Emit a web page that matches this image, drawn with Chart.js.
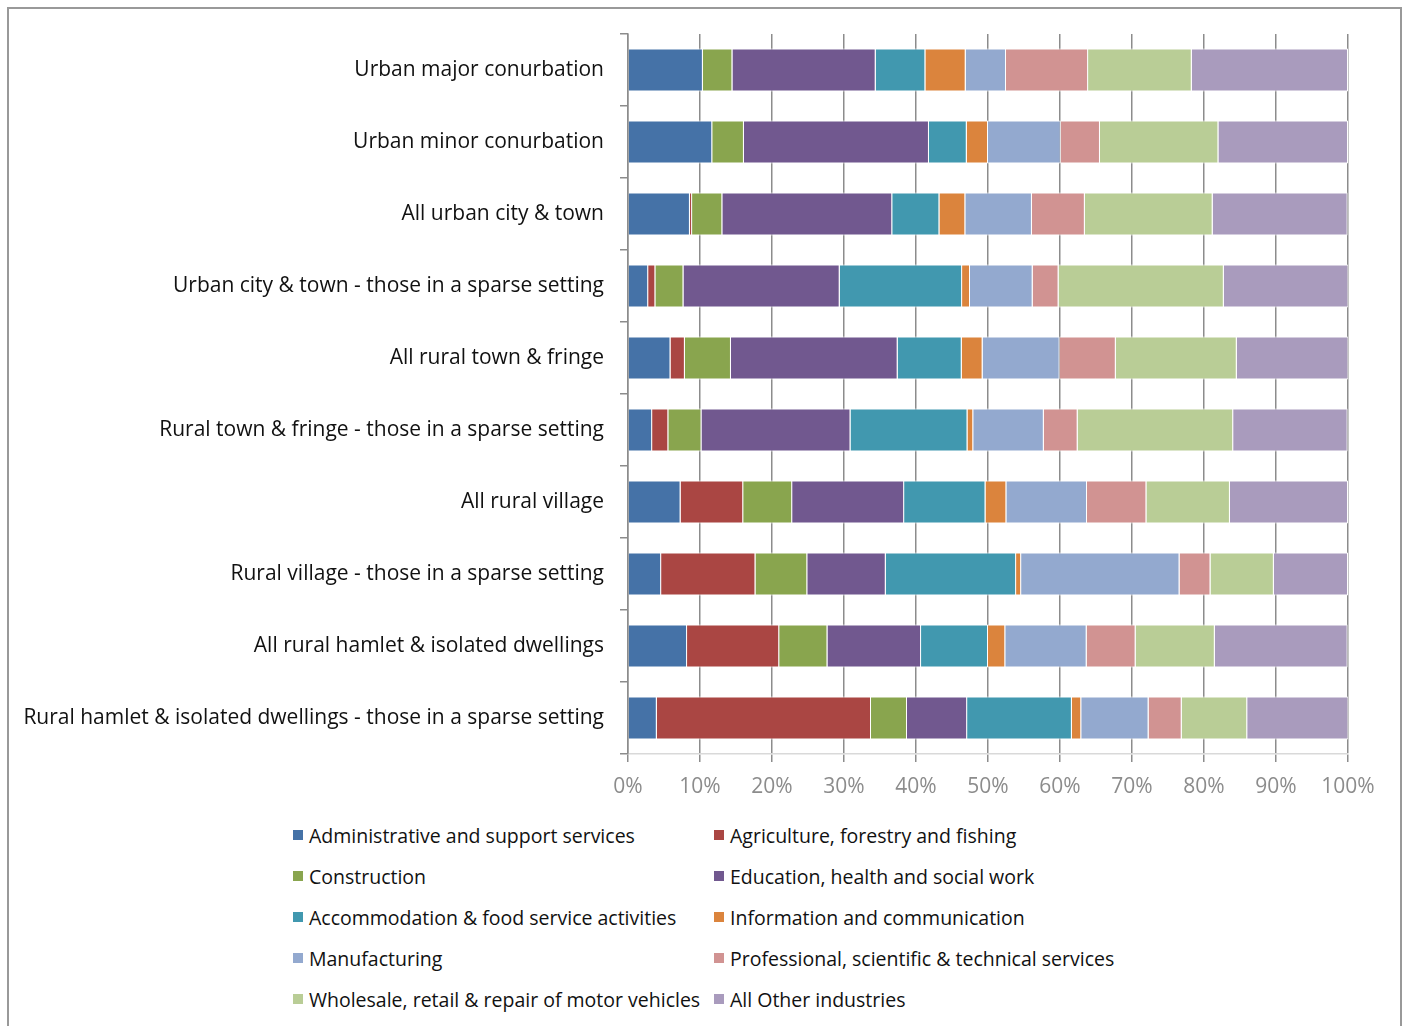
<!DOCTYPE html>
<html>
<head>
<meta charset="utf-8">
<script src="https://cdn.jsdelivr.net/npm/chart.js@4/dist/chart.umd.min.js"></script>
<style>
  html, body { margin: 0; padding: 0; background: #fff; }
  #wrap { position: relative; width: 1405px; height: 1026px; overflow: hidden; }
  #chartBox { position: absolute; left: 0; top: 0; width: 1405px; height: 800px; }
  #frame { position: absolute; left: 7px; top: 7px; width: 1395px; height: 1040px; border: 2px solid #999; box-sizing: border-box; pointer-events: none; }
  #legend { position: absolute; left: 293px; top: 822px; display: grid; grid-template-columns: 421px 421px; grid-auto-rows: 41px; font-family: "Open Sans", sans-serif; font-size: 19.5px; color: #111; }
  #legend .item { display: flex; align-items: center; height: 26px; white-space: nowrap; }
  #legend .box { width: 10px; height: 10px; margin-right: 6px; flex: none; }
</style>
</head>
<body>
<div id="wrap">
  <div id="chartBox"><canvas id="c" width="1405" height="800"></canvas></div>
  <div id="legend"></div>
  <div id="frame"></div>
</div>
<script>
const categories = [
  "Urban major conurbation",
  "Urban minor conurbation",
  "All urban city & town",
  "Urban city & town - those in a sparse setting",
  "All rural town & fringe",
  "Rural town & fringe - those in a sparse setting",
  "All rural village",
  "Rural village - those in a sparse setting",
  "All rural hamlet & isolated dwellings",
  "Rural hamlet & isolated dwellings - those in a sparse setting"
];
const seriesNames = [
  "Administrative and support services",
  "Agriculture, forestry and fishing",
  "Construction",
  "Education, health and social work",
  "Accommodation & food service activities",
  "Information and communication",
  "Manufacturing",
  "Professional, scientific & technical services",
  "Wholesale, retail & repair of motor vehicles",
  "All Other industries"
];
const admin     = [10.4, 11.7, 8.6, 2.8, 5.9, 3.35, 7.3, 4.6, 8.2, 4.0];
const agri      = [0, 0, 0.3, 1.0, 2.0, 2.25, 8.7, 13.1, 12.8, 29.75];
const constr    = [4.1, 4.4, 4.2, 3.9, 6.4, 4.6, 6.8, 7.2, 6.7, 5.0];
const education = [19.9, 25.7, 23.6, 21.7, 23.15, 20.7, 15.55, 10.9, 13.0, 8.35];
const accom     = [6.9, 5.25, 6.55, 17.0, 8.9, 16.25, 11.3, 18.1, 9.3, 14.55];
const info      = [5.6, 2.95, 3.6, 1.1, 2.9, 0.8, 2.9, 0.7, 2.4, 1.3];
const manuf     = [5.6, 10.1, 9.25, 8.7, 10.7, 9.8, 11.2, 22.0, 11.3, 9.35];
const prof      = [11.4, 5.45, 7.35, 3.6, 7.8, 4.7, 8.25, 4.3, 6.8, 4.6];
const wholesale = [14.4, 16.45, 17.75, 22.95, 16.8, 21.6, 11.6, 8.8, 11.0, 9.1];
const other     = [21.7, 18.0, 18.75, 17.3, 15.5, 15.9, 16.4, 10.3, 18.45, 14.05];
const xTicks = [0, 10, 20, 30, 40, 50, 60, 70, 80, 90, 100];

const seriesValues = [admin, agri, constr, education, accom, info, manuf, prof, wholesale, other];
const colors = ["#4572A7", "#AA4643", "#89A54E", "#71588F", "#4198AF", "#DB843D", "#93A9CF", "#D19392", "#B9CD96", "#A99BBD"];

const datasets = seriesNames.map((name, i) => ({
  label: name,
  data: seriesValues[i],
  backgroundColor: colors[i],
  borderColor: "#ffffff",
  borderWidth: 1,
  barPercentage: 0.6,
  categoryPercentage: 1.0
}));

const chart = new Chart(document.getElementById("c"), {
  type: "bar",
  data: { labels: categories, datasets },
  options: {
    indexAxis: "y",
    responsive: false,
    animation: false,
    layout: { padding: { top: 34, right: 57, left: 0, bottom: 0 } },
    plugins: { legend: { display: false }, tooltip: { enabled: false } },
    scales: {
      x: {
        stacked: true,
        min: 0, max: 100,
        afterBuildTicks: (s) => { s.ticks = xTicks.map(v => ({ value: v })); },
        afterFit: (s) => { s.height = 46; },
        ticks: {
          callback: (v) => v + "%",
          color: "#8c8c8c",
          font: { family: "Open Sans", size: 21 },
          padding: 12,
          maxRotation: 0
        },
        grid: { color: "#8c8c8c", lineWidth: 1.5, tickLength: 8, tickColor: "#8c8c8c" },
        border: { color: "#d9d9d9", width: 1.5 }
      },
      y: {
        stacked: true,
        afterFit: (s) => { s.width = 628; },
        ticks: {
          color: "#111111",
          font: { family: "Open Sans", size: 21 },
          padding: 16
        },
        grid: { drawOnChartArea: false, tickLength: 8, color: "#8c8c8c", lineWidth: 1.5 },
        border: { color: "#8c8c8c", width: 1.5 }
      }
    }
  }
});

const leg = document.getElementById("legend");
seriesNames.forEach((name, i) => {
  const it = document.createElement("div");
  it.className = "item";
  const b = document.createElement("span");
  b.className = "box";
  b.style.background = colors[i];
  const t = document.createElement("span");
  t.textContent = name;
  it.appendChild(b); it.appendChild(t);
  leg.appendChild(it);
});
</script>
</body>
</html>
